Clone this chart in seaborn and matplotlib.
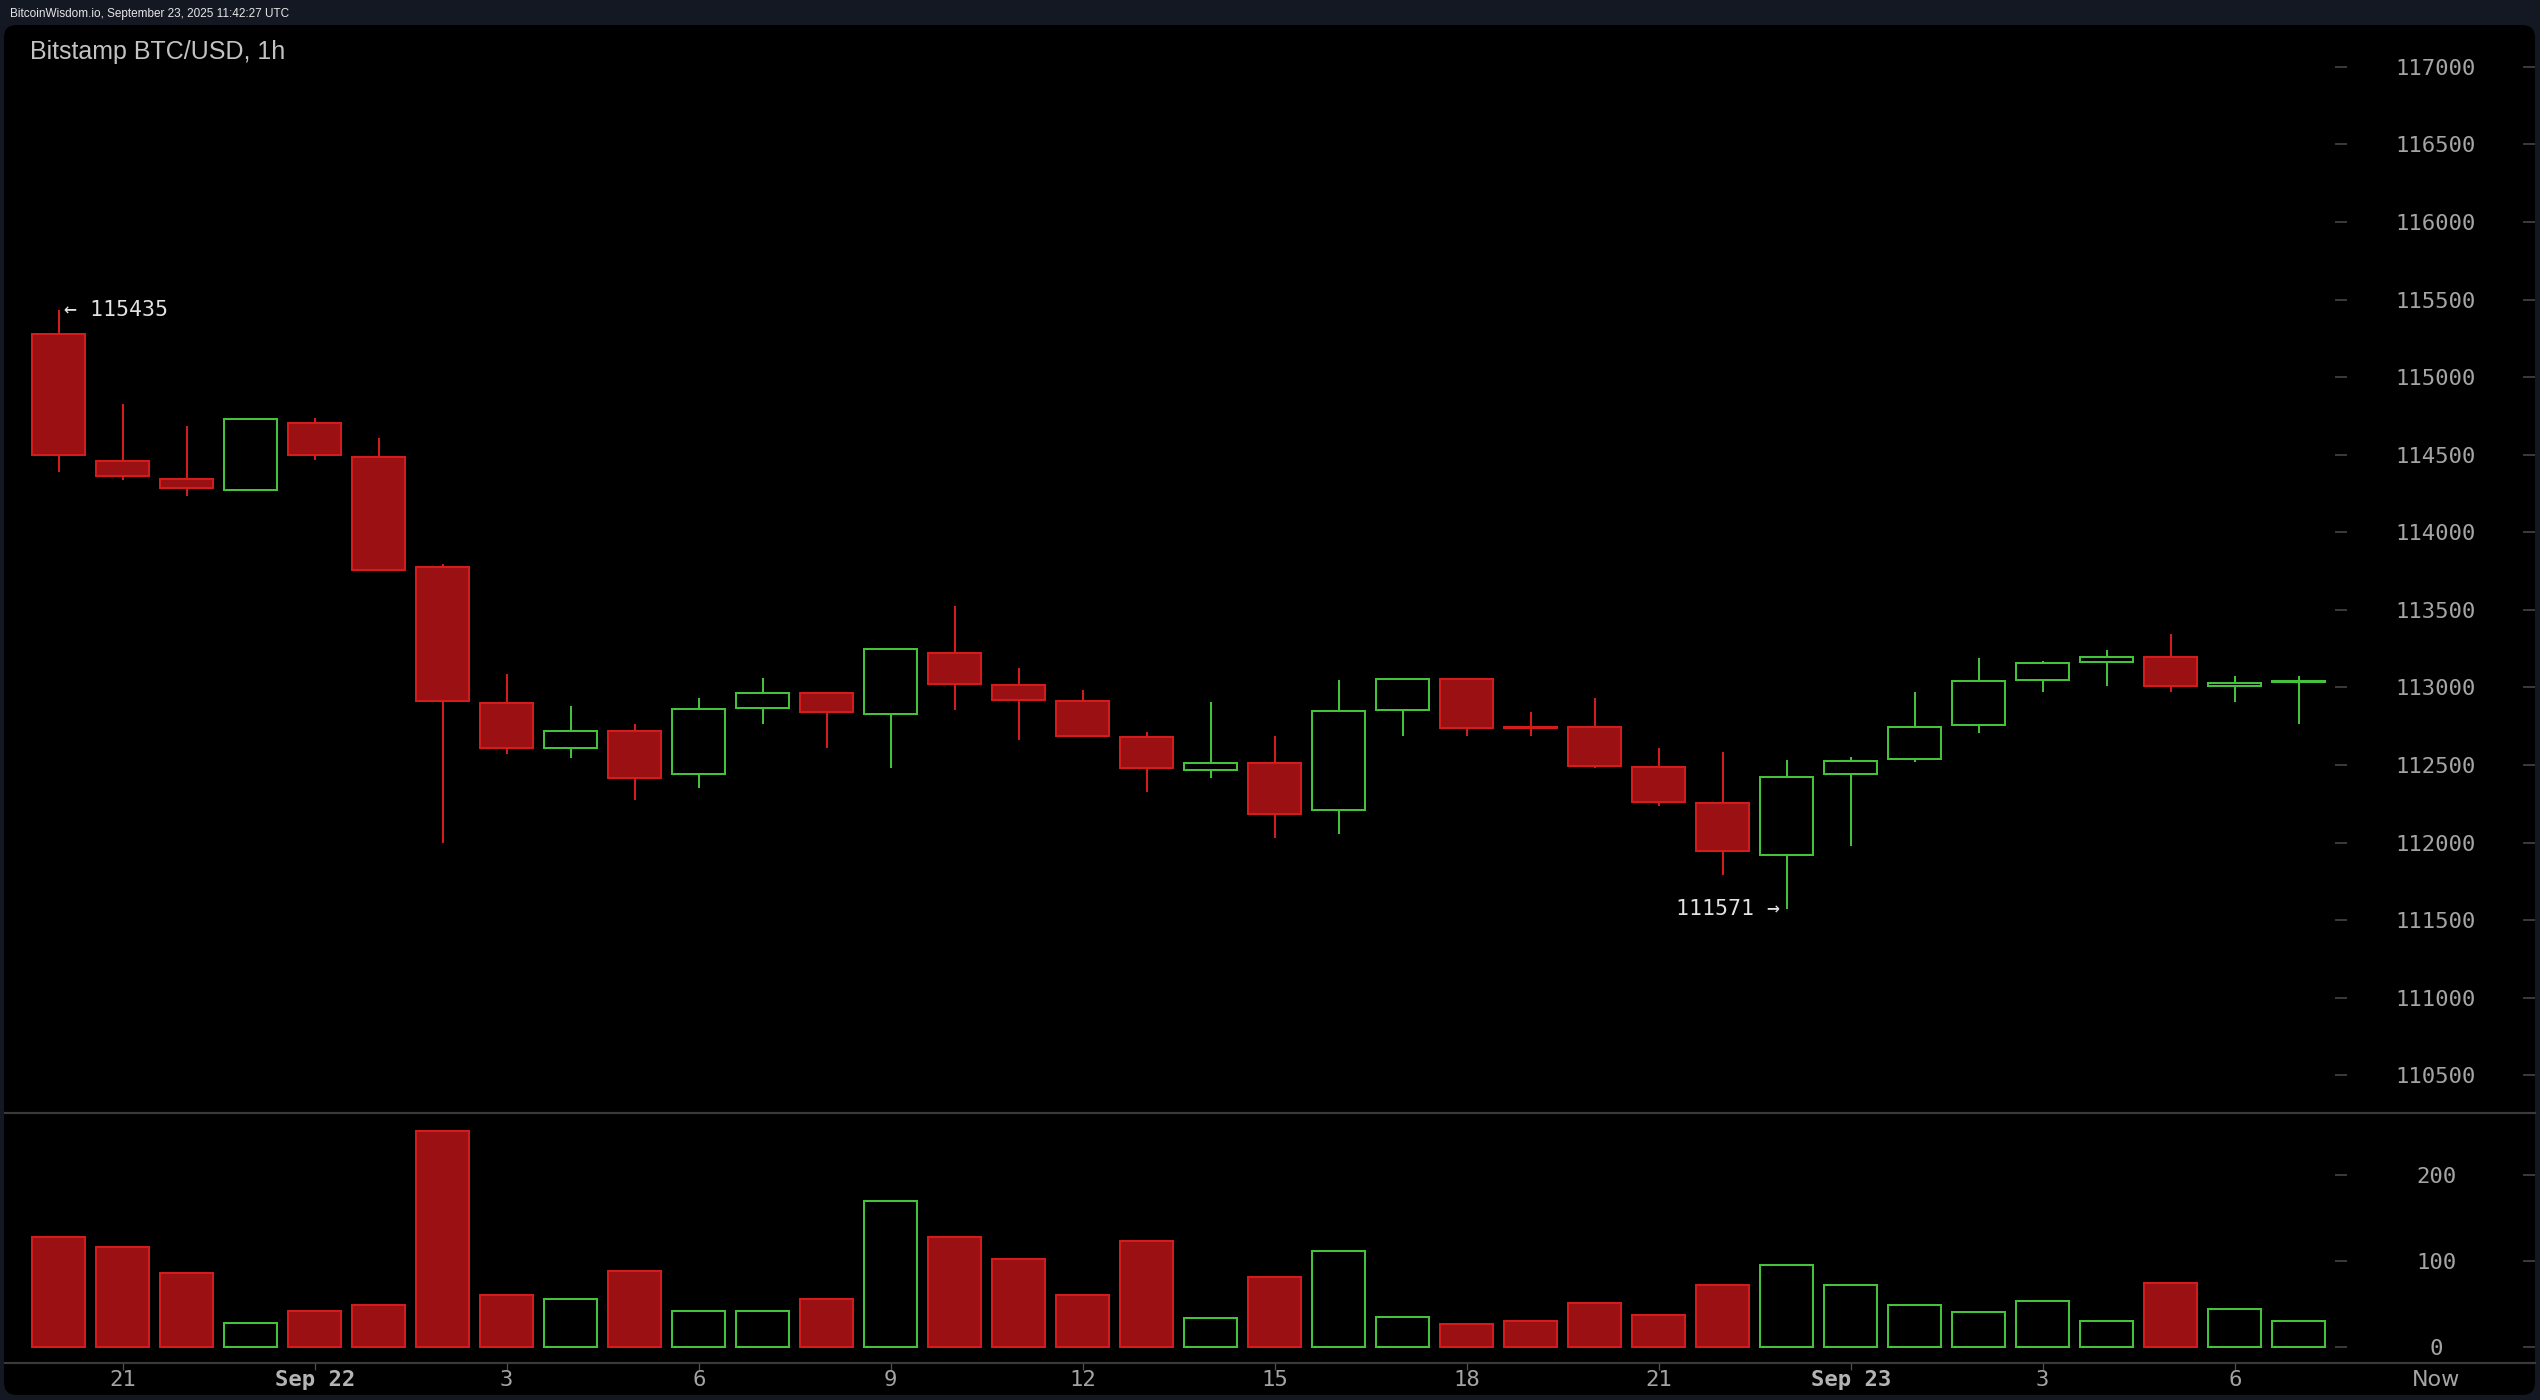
import numpy as np
import pandas as pd
import matplotlib
matplotlib.use("Agg")
import matplotlib.pyplot as plt
import seaborn as sns
from matplotlib.patches import FancyBboxPatch

# ---------------- data (hourly candles, Sep 21 20:00 -> Sep 23 07:00) ----------------
opens = [115275, 114460, 114344, 114275, 114705, 114486, 113775, 112900, 112612, 112719,
         112445, 112870, 112964, 112831, 113222, 113016, 112913, 112681, 112470, 112513,
         112212, 112857, 113054, 112748, 112745, 112487, 112255, 111921, 112445, 112537,
         112756, 113049, 113165, 113199, 113012, 113038]
highs = [115435, 114825, 114683, 114735, 114735, 114606, 113795, 113085, 112878, 112762,
         112930, 113059, 112968, 113250, 113523, 113123, 112982, 112711, 112904, 112685,
         113046, 113056, 113056, 112840, 112930, 112608, 112583, 112532, 112554, 112969,
         113188, 113172, 113239, 113343, 113072, 113072]
lows = [114390, 114335, 114234, 114270, 114465, 113755, 112000, 112570, 112543, 112272,
        112350, 112762, 112608, 112479, 112853, 112659, 112688, 112324, 112414, 112027,
        112053, 112685, 112685, 112685, 112479, 112238, 111789, 111571, 111979, 112520,
        112704, 112969, 113009, 112969, 112906, 112762]
closes = [114495, 114366, 114288, 114731, 114495, 113760, 112910, 112612, 112719, 112419,
          112861, 112964, 112844, 113248, 113025, 112922, 112690, 112483, 112513, 112187,
          112848, 113054, 112741, 112742, 112496, 112264, 111944, 112422, 112526, 112744,
          113044, 113159, 113199, 113009, 113030, 113044]
volumes = [128, 116, 86, 28, 42, 49, 251, 60, 56, 88,
           42, 42, 56, 170, 128, 102, 60, 123, 33, 81,
           112, 35, 26, 30, 51, 37, 72, 95, 72, 49,
           40, 53, 30, 74, 44, 30]
x_tick_labels = ["21", "Sep 22", "3", "6", "9", "12", "15", "18", "21", "Sep 23", "3", "6"]
price_ticks = [110500, 111000, 111500, 112000, 112500, 113000, 113500,
               114000, 114500, 115000, 115500, 116000, 116500, 117000]
volume_ticks = [0, 100, 200]
start_hour = 20
header_text = "BitcoinWisdom.io, September 23, 2025 11:42:27 UTC"
title_text = "Bitstamp BTC/USD, 1h"

# ---------------- style ----------------
NAVY = "#131822"
RED_FILL = "#9b1013"
RED_EDGE = "#d41c1c"
GREEN = "#44c23c"
SPINE_C = "#3a3a3a"
TICK_C = "#4d4d4d"
LABEL_C = "#a4a4a4"

sns.set_theme(style="dark", rc={"axes.facecolor": "black", "figure.facecolor": NAVY,
                                "savefig.facecolor": NAVY, "axes.grid": False})
plt.rcParams["font.family"] = ["DejaVu Sans Mono", "DejaVu Sans"]

W, H = 2540, 1400
fig = plt.figure(figsize=(W / 100, H / 100), dpi=100)
PT = 0.72  # points per pixel at dpi 100


def px_axes(left, top, right, bottom, **kw):
    return fig.add_axes([left / W, 1 - bottom / H, (right - left) / W, (bottom - top) / H], **kw)


# black rounded panel
panel = FancyBboxPatch((4 / W, 1 - 1395 / H), (2535 - 4) / W, (1395 - 25) / H,
                       boxstyle="round,pad=0,rounding_size=0.005", mutation_aspect=W / H,
                       transform=fig.transFigure, facecolor="black", edgecolor="none", zorder=-5)
fig.add_artist(panel)

fig.text(10 / W, 1 - 13.5 / H, header_text, color="#e6e6e6", fontsize=8.5,
         family=["Liberation Sans", "DejaVu Sans"], va="center", ha="left")

# layout (pixels)
AX_L, AX_R = 5, 2535
PRICE_TOP, SEP_Y, XAX_Y = 25, 1112.7, 1362.7
PX_PER_HOUR = 64.0
FIRST_X = 58.7
LABEL_CX = 2436
xmin = -(FIRST_X - AX_L) / PX_PER_HOUR
xmax = xmin + (AX_R - AX_L) / PX_PER_HOUR

ax = px_axes(AX_L, PRICE_TOP, AX_R, SEP_Y)
axv = px_axes(AX_L, SEP_Y, AX_R, XAX_Y)
for a in (ax, axv):
    a.set_facecolor("none")

n = len(opens)
idx = np.arange(n)
o = np.array(opens, float); c = np.array(closes, float)
h = np.array(highs, float); l = np.array(lows, float)
up = c >= o

# ---------------- candles ----------------
ax.vlines(idx, l, h, colors=np.where(up, GREEN, RED_EDGE), linewidth=2 * PT, zorder=2)
ax.bar(idx, np.abs(c - o), bottom=np.minimum(o, c), width=0.83,
       color=np.where(up, "black", RED_FILL), edgecolor=np.where(up, GREEN, RED_EDGE),
       linewidth=2 * PT, zorder=3)

hi_i = int(np.argmax(h)); lo_i = int(np.argmin(l))
ax.annotate(f"\u2190 {h[hi_i]:.0f}", xy=(hi_i, h[hi_i]), xytext=(5, 0), textcoords="offset pixels",
            ha="left", va="center", color="#e2e2e2", fontsize=15.5)
ax.annotate(f"{l[lo_i]:.0f} \u2192", xy=(lo_i, l[lo_i]), xytext=(-7, 0), textcoords="offset pixels",
            ha="right", va="center", color="#e2e2e2", fontsize=15.5)

# ---------------- volume (seaborn) ----------------
vdf = pd.DataFrame({"i": idx, "volume": volumes, "dir": np.where(up, "up", "down")})
sns.barplot(data=vdf, x="i", y="volume", hue="dir", palette={"up": GREEN, "down": RED_FILL},
            native_scale=True, dodge=False, width=0.82, errorbar=None, legend=False,
            saturation=1, linewidth=2 * PT, ax=axv)
green_rgb = np.array(matplotlib.colors.to_rgb(GREEN))
for p in axv.patches:
    fc = np.array(p.get_facecolor()[:3])
    if np.allclose(fc, green_rgb, atol=0.02):
        p.set_facecolor("black"); p.set_edgecolor(GREEN)
    else:
        p.set_edgecolor(RED_EDGE)
    p.set_linewidth(2 * PT)
axv.set_xlabel(""); axv.set_ylabel("")

# ---------------- axes formatting ----------------
ax.set_xlim(xmin, xmax); axv.set_xlim(xmin, xmax)
ax.set_ylim(110260, 117269)
axv.set_ylim(-18.64, 272.6)

for a in (ax, axv):
    for s in a.spines.values():
        s.set_visible(False)
ax.spines["bottom"].set_visible(True); ax.spines["bottom"].set_color(SPINE_C)
ax.spines["bottom"].set_linewidth(2.2 * PT)
axv.spines["bottom"].set_visible(True); axv.spines["bottom"].set_color(SPINE_C)
axv.spines["bottom"].set_linewidth(2.2 * PT)
ax.set_xticks([])

label_pad = (LABEL_CX - AX_R) * PT
for a, ticks in ((ax, price_ticks), (axv, volume_ticks)):
    a.yaxis.tick_right()
    a.set_yticks(ticks)
    a.set_yticklabels([str(t) for t in ticks])
    a.tick_params(axis="y", direction="in", length=12 * PT, width=1.5 * PT, color=TICK_C,
                  pad=label_pad, labelsize=16, labelcolor=LABEL_C, right=True, left=False,
                  labelright=True, labelleft=False)
    for t in a.get_yticklabels():
        t.set_ha("center")
    # inner dash of each tick (left of the label column)
    ad = px_axes(AX_L, PRICE_TOP if a is ax else SEP_Y, 2347, SEP_Y if a is ax else XAX_Y, sharey=a)
    ad.patch.set_visible(False)
    for s in ad.spines.values():
        s.set_visible(False)
    ad.set_xticks([])
    ad.tick_params(axis="y", direction="in", length=12 * PT, width=1.5 * PT, color=TICK_C,
                   left=False, right=True, labelleft=False, labelright=False)

# x ticks
hours = (start_hour + idx) % 24
tick_pos = [int(i) for i in idx if hours[i] % 3 == 0]
now_pos = xmin + (LABEL_CX - AX_L) / PX_PER_HOUR
axv.set_xticks(tick_pos + [now_pos])
axv.set_xticklabels(x_tick_labels + ["Now"])
axv.tick_params(axis="x", direction="out", length=7 * PT, width=1.3 * PT, color=TICK_C,
                pad=0, labelsize=16, labelcolor=LABEL_C, bottom=True)
for t in axv.get_xticklabels():
    if t.get_text().startswith("Sep"):
        t.set_fontweight("bold")
        t.set_color("#b4b4b4")
    if t.get_text() == "Now":
        t.set_family(["DejaVu Sans", "DejaVu Sans Mono"])
axv.xaxis.get_major_ticks()[-1].tick1line.set_visible(False)

fig.text(30 / W, 1 - 52 / H, title_text, color="#c2c2c2", fontsize=18,
         family=["Liberation Sans", "DejaVu Sans"], va="center", ha="left")

fig.savefig("out.png", dpi=100, facecolor=NAVY)
